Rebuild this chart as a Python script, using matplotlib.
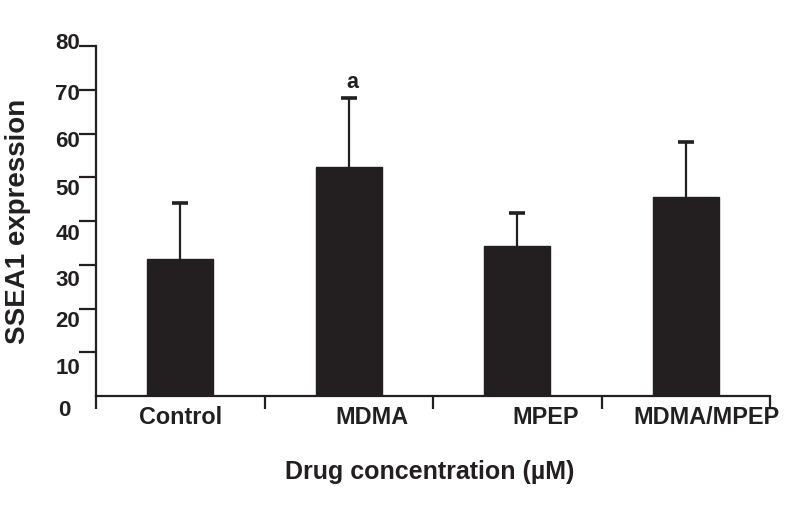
import matplotlib
matplotlib.use("Agg")
import matplotlib.pyplot as plt
from matplotlib.transforms import blended_transform_factory

plt.rcParams['font.family'] = ['Liberation Sans', 'DejaVu Sans']
plt.rcParams['font.weight'] = 'bold'

categories = ["Control", "MDMA", "MPEP", "MDMA/MPEP"]
means = [31.3, 52.3, 34.4, 45.6]
errors = [12.9, 15.8, 7.5, 12.5]
significance = ["", "a", "", ""]
ytick_values = [10, 20, 30, 40, 50, 60, 70, 80]
ytick_labels = ["10", "20", "30", "40", "50", "60", "70", "80"]

# layout (label positions as drawn in the reference, which drift from ticks)
ylabel_pos = [6.4, 17.1, 26.5, 37.0, 47.1, 58.1, 69.0, 80.5]
xlabel_offsets = [0.0, 0.14, 0.17, 0.12]

DARK = "#231f20"
W, H = 788, 514
fig = plt.figure(figsize=(W / 100, H / 100), dpi=100)
ax = fig.add_axes([96 / W, 1 - 396 / H, (770 - 96) / W, (396 - 46) / H])

x = list(range(len(categories)))
tops = [m + e for m, e in zip(means, errors)]
ax.bar(x, means, width=0.39, color=DARK, edgecolor=DARK, zorder=2)
ax.vlines(x, means, tops, color=DARK, linewidth=1.6, zorder=1)
ax.plot(x, tops, linestyle='none', marker='_', markersize=12, markeredgewidth=2.6,
        color=DARK, zorder=1)

ax.set_xlim(-0.5, len(categories) - 0.5)
ax.set_ylim(0, 80)
for s in ['top', 'right']:
    ax.spines[s].set_visible(False)
for s in ['left', 'bottom']:
    ax.spines[s].set_color(DARK)
    ax.spines[s].set_linewidth(1.6)

ax.set_yticks(ytick_values)
ax.set_yticklabels([])
ax.tick_params(axis='y', direction='out', length=12, width=1.6, color=DARK)
ax.set_xticks([i - 0.5 for i in range(len(categories) + 1)])
ax.set_xticklabels([])
ax.tick_params(axis='x', direction='out', length=9, width=1.6, color=DARK)

ytrans = blended_transform_factory(ax.transAxes, ax.transData)
ax_w = 770 - 96
for lab, pos in zip(ytick_labels, ylabel_pos):
    ax.text((80 - 96) / ax_w, pos, lab, transform=ytrans, ha='right', va='center',
            fontsize=16, fontweight='bold', color=DARK, clip_on=False)
ax.text((64 - 96) / ax_w, -3.4, "0", transform=ytrans, ha='center', va='center',
        fontsize=16, fontweight='bold', color=DARK, clip_on=False)

for i, (cat, off) in enumerate(zip(categories, xlabel_offsets)):
    ax.text(i + off, -5.0, cat, ha='center', va='center', fontsize=16.8,
            fontweight='bold', color=DARK, clip_on=False)

for i, (t, sig) in enumerate(zip(tops, significance)):
    if sig:
        ax.text(i + 0.02, t + 1.2, sig, ha='center', va='bottom', fontsize=15.5,
                fontweight='bold', color=DARK)

fig.text(430 / W, 1 - 479 / H, "Drug concentration (µM)", ha='center', va='baseline',
         fontsize=18, fontweight='bold', color=DARK)
fig.text(18 / W, 1 - 221 / H, "SSEA1 expression", rotation=90, ha='center', va='center',
         fontsize=20, fontweight='bold', color=DARK)

fig.savefig("out.png", dpi=100)
